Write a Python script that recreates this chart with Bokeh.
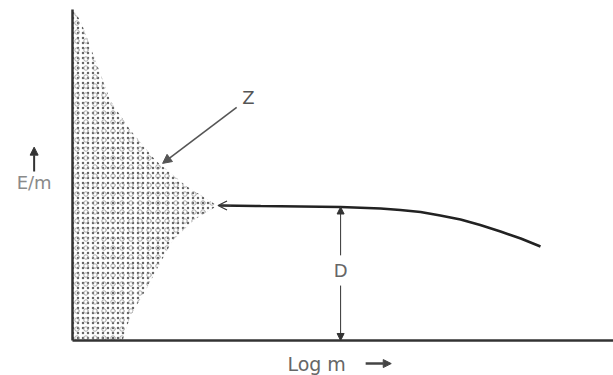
from bokeh.plotting import figure
from bokeh.models import Range1d, Arrow, NormalHead, OpenHead, ColumnDataSource
from bokeh.core.properties import value
from bokeh.embed import file_html
from bokeh.resources import INLINE

# Stippled scatter region Z (envelope, log m vs E/m)
z_x = [0, 0.15, 0.43, 0.71, 1.09, 1.56, 2.12, 2.72, 2.31, 1.88, 1.65, 1.37, 1.09, 0.94, 0]
z_y = [10.2, 9.85, 8.62, 7.38, 6.46, 5.54, 4.77, 4.15, 3.75, 3.08, 2.40, 1.54, 0.77, 0, 0]

# Curve of E/m against log m
curve_x = [2.78, 3.53, 4.28, 5.03, 5.78, 6.15, 6.53, 6.90, 7.28, 7.65, 8.03, 8.41, 8.78]
curve_y = [4.154, 4.138, 4.123, 4.108, 4.062, 4.015, 3.954, 3.846, 3.723, 3.554, 3.354, 3.138, 2.892]

# Depth D marker
d_x = 5.03
d_top = 4.108
d_gap = [2.62, 1.69]

# Labels
texts = ["Z", "D", "E/m", "Log m"]
text_x = [3.30, 5.03, -0.72, 4.58]
text_y = [7.48, 2.15, 4.85, -0.71]

W, H = 613, 375
p = figure(width=W, height=H, output_backend="svg", toolbar_location=None,
           x_range=Range1d(-1.351, 10.150), y_range=Range1d(-1.077, 10.462),
           min_border=0, min_border_left=0, min_border_right=0,
           min_border_top=0, min_border_bottom=0)
p.grid.visible = False
p.outline_line_color = None
p.background_fill_color = "white"

for ax in (p.xaxis[0], p.yaxis[0]):
    ax.fixed_location = 0
    ax.ticker = []
    ax.axis_line_color = "#333333"
    ax.axis_line_width = 2.5
    ax.major_tick_line_color = None
    ax.minor_tick_line_color = None
    ax.major_label_text_font_size = "0px"
    ax.major_label_standoff = 0
p.xaxis[0].bounds = (0, 10.2)
p.yaxis[0].bounds = (0, 10.2)

# stippling
p.patch(z_x, z_y, fill_color=None, line_color=None,
        hatch_pattern=".", hatch_color="#666666", hatch_scale=5, hatch_weight=1.3)
p.patch(z_x, z_y, fill_color=None, line_color=None,
        hatch_pattern="o", hatch_color="#999999", hatch_scale=9, hatch_weight=0.8)

# curve
p.line(curve_x, curve_y, line_color="#222222", line_width=2.6)
p.add_layout(Arrow(end=OpenHead(size=9, line_color="#333333", line_width=1.2),
                   x_start=curve_x[0] + 0.2, y_start=curve_y[0], x_end=curve_x[0] - 0.05, y_end=curve_y[0],
                   line_color="#333333", line_width=1))

# D arrows
p.add_layout(Arrow(end=NormalHead(size=7, fill_color="#333333", line_color="#333333"),
                   x_start=d_x, y_start=d_gap[0], x_end=d_x, y_end=d_top,
                   line_color="#333333", line_width=1))
p.add_layout(Arrow(end=NormalHead(size=7, fill_color="#333333", line_color="#333333"),
                   x_start=d_x, y_start=d_gap[1], x_end=d_x, y_end=0,
                   line_color="#333333", line_width=1))

# Z arrow
p.add_layout(Arrow(end=NormalHead(size=9, fill_color="#555555", line_color="#555555"),
                   x_start=3.08, y_start=7.17, x_end=1.69, y_end=5.45,
                   line_color="#555555", line_width=1.6))

# E/m up arrow
p.add_layout(Arrow(end=NormalHead(size=8, fill_color="#333333", line_color="#333333"),
                   x_start=-0.72, y_start=5.2, x_end=-0.72, y_end=5.95,
                   line_color="#333333", line_width=2))
# Log m right arrow
p.add_layout(Arrow(end=NormalHead(size=8, fill_color="#444444", line_color="#444444"),
                   x_start=5.5, y_start=-0.71, x_end=5.98, y_end=-0.71,
                   line_color="#444444", line_width=2.5))

src = ColumnDataSource(dict(x=text_x, y=text_y, t=texts,
                            c=["#555555", "#666666", "#8a8a8a", "#666666"],
                            s=["18px", "18px", "18px", "19px"]))
p.text(x="x", y="y", text="t", source=src, text_color="c", text_font_size="s",
       text_font=value("DejaVu Sans"), text_align="center", text_baseline="middle")

open("out.html", "w").write(file_html(p, INLINE))
